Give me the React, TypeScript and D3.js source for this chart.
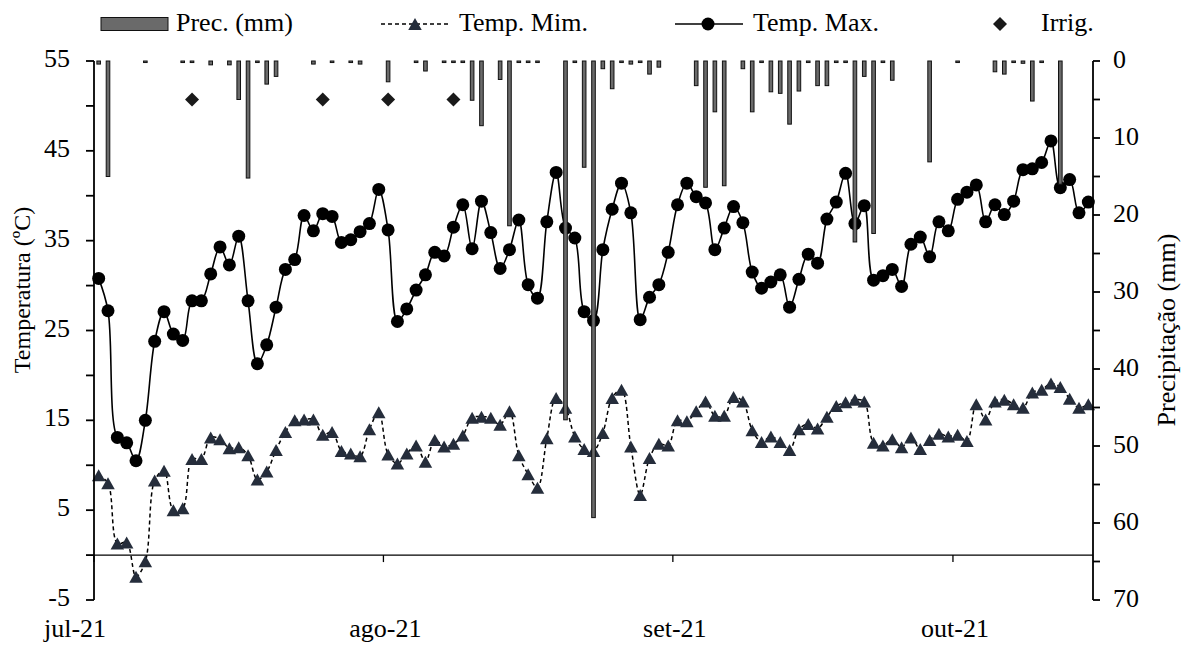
import React from "react";
import * as d3 from "d3";

// ---------- DATA ----------
const startDate = "2021-07-01";
const endDate = "2021-10-16";

const tempMax: number[] = [
  30.8, 27.2, 13.1, 12.5, 10.5, 15.0, 23.8, 27.1, 24.6, 23.9,
  28.3, 28.3, 31.3, 34.3, 32.3, 35.5, 28.3, 21.3, 23.4, 27.6,
  31.8, 32.9, 37.8, 36.1, 38.0, 37.7, 34.8, 35.1, 36.0, 36.9,
  40.7, 36.2, 26.0, 27.4, 29.5, 31.2, 33.7, 33.3, 36.5, 39.0,
  34.1, 39.4, 35.9, 31.9, 34.0, 37.3, 30.1, 28.6, 37.1, 42.6,
  36.4, 35.3, 27.1, 26.1, 34.0, 38.5, 41.4, 38.1, 26.2, 28.7,
  30.1, 33.7, 39.0, 41.4, 39.9, 39.2, 34.0, 36.4, 38.8, 37.0,
  31.5, 29.7, 30.4, 31.2, 27.6, 30.7, 33.5, 32.5, 37.4, 39.3,
  42.5, 36.9, 38.9, 30.6, 31.1, 31.8, 29.9, 34.6, 35.4, 33.2,
  37.1, 36.1, 39.6, 40.4, 41.2, 37.1, 39.0, 37.9, 39.4, 42.9,
  43.0, 43.7, 46.1, 40.9, 41.8, 38.1, 39.3,
];

const tempMin: number[] = [
  8.9, 8.0, 1.3, 1.4, -2.4, -0.7, 8.3, 9.4, 5.0, 5.2,
  10.7, 10.7, 13.1, 12.9, 11.9, 12.0, 11.1, 8.4, 9.3, 11.7,
  13.7, 15.0, 15.1, 15.1, 13.4, 13.7, 11.6, 11.3, 11.0, 14.0,
  15.9, 11.2, 10.2, 11.3, 12.2, 10.4, 12.8, 12.1, 12.4, 13.3,
  15.3, 15.4, 15.3, 14.5, 16.0, 11.1, 9.0, 7.5, 13.0, 17.5,
  16.4, 13.2, 11.8, 11.6, 13.6, 17.5, 18.4, 12.1, 6.7, 10.8,
  12.4, 12.2, 15.0, 14.9, 16.0, 17.1, 15.5, 15.5, 17.6, 17.1,
  13.9, 12.6, 13.2, 12.6, 11.7, 14.0, 14.6, 14.1, 15.4, 16.6,
  17.0, 17.3, 17.1, 12.5, 12.2, 12.9, 12.0, 13.1, 11.8, 12.8,
  13.5, 13.2, 13.4, 12.7, 16.8, 15.1, 17.1, 17.3, 16.8, 16.4,
  18.1, 18.4, 19.1, 18.7, 17.4, 16.4, 16.8,
];

const precipitation: number[] = [
  0.4, 15.0, 0, 0, 0, 0.2, 0, 0, 0, 0.2,
  0.2, 0, 0.5, 0, 0.5, 5.0, 15.2, 0.2, 3.0, 2.0,
  0, 0, 0, 0.4, 0, 0.2, 0, 0.2, 0.4, 0,
  0, 2.7, 0, 0, 0.2, 1.3, 0, 0.2, 0.2, 0.2,
  5.1, 8.4, 0, 2.4, 21.4, 0.2, 0.2, 0.2, 0, 0,
  46.6, 0.2, 13.8, 59.3, 1.0, 3.6, 0.2, 0.4, 0.2, 1.7,
  0.8, 0, 0, 0, 3.2, 16.4, 6.6, 16.2, 0, 1.0,
  6.6, 0.2, 4.0, 4.2, 8.2, 3.9, 0.2, 3.2, 3.2, 0.2,
  0.2, 23.5, 2.0, 22.4, 0.2, 2.5, 0, 0, 0, 13.1,
  0, 0, 0.2, 0, 0, 0, 1.4, 1.7, 0.2, 0.3,
  5.2, 0.2, 0, 16.0, 0, 0, 0,
];

const irrigationDates: string[] = ["2021-07-11", "2021-07-25", "2021-08-01", "2021-08-08"];
const irrigationValue = 5;

const monthTicks: string[] = ["2021-07-01", "2021-08-01", "2021-09-01", "2021-10-01"];
const monthLabels: string[] = ["jul-21", "ago-21", "set-21", "out-21"];

const tempTicks: number[] = [-5, 0, 5, 10, 15, 20, 25, 30, 35, 40, 45, 50, 55];
const tempLabels: number[] = [-5, 5, 15, 25, 35, 45, 55];
const precTicks: number[] = [0, 5, 10, 15, 20, 25, 30, 35, 40, 45, 50, 55, 60, 65, 70];
const precLabels: number[] = [0, 10, 20, 30, 40, 50, 60, 70];

// ---------- LAYOUT ----------
const W = 1189;
const H = 645;
const L = 94;
const R = 1093;
const T = 61;
const B = 600;
const FONT = "'Liberation Serif', 'Times New Roman', serif";
const FS = 26;

const parse = (s: string) => new Date(s + "T00:00:00Z");

export default function App() {
  const x = d3.scaleUtc().domain([parse(startDate), parse(endDate)]).range([L, R]);
  const yT = d3.scaleLinear().domain([-5, 55]).range([B, T]);
  const yP = d3.scaleLinear().domain([0, 70]).range([T, B]);

  const dayX = (i: number) => x(d3.utcHour.offset(d3.utcDay.offset(parse(startDate), i), 12));
  const dateX = (s: string) => x(d3.utcHour.offset(parse(s), 12));

  const curve = d3.curveCatmullRom.alpha(0.5);
  const maxLine = d3.line<number>().x((_, i) => dayX(i)).y((d) => yT(d)).curve(curve);
  const minLine = d3.line<number>().x((_, i) => dayX(i)).y((d) => yT(d)).curve(curve);

  const barW = 3.6;
  const tri = (cx: number, cy: number) => {
    const w = 13.5, h = 12;
    return `M${cx},${cy - h / 2}L${cx + w / 2},${cy + h / 2}L${cx - w / 2},${cy + h / 2}Z`;
  };
  const diamond = (cx: number, cy: number) => {
    const r = 7;
    return `M${cx},${cy - r}L${cx + r},${cy}L${cx},${cy + r}L${cx - r},${cy}Z`;
  };
  const triColor = "#252d3b";
  const barFill = "#6a6a6a";

  const legendY = 24;

  return (
    <svg
      width={W}
      height={H}
      style={{ position: "absolute", left: 0, top: 0, background: "#fff" }}
      fontFamily={FONT}
      fontSize={FS}
    >
      {/* Temperature lines */}
      <path d={minLine(tempMin) || ""} fill="none" stroke="#000" strokeWidth={1.5} strokeDasharray="4 3" />
      <path d={maxLine(tempMax) || ""} fill="none" stroke="#000" strokeWidth={1.6} />
      {tempMin.map((v, i) => (
        <path key={"tn" + i} d={tri(dayX(i), yT(v))} fill={triColor} />
      ))}
      {tempMax.map((v, i) => (
        <circle key={"tx" + i} cx={dayX(i)} cy={yT(v)} r={6.5} fill="#000" />
      ))}

      {/* Precipitation bars (secondary axis, reversed) */}
      {precipitation.map((v, i) =>
        v > 0 ? (
          <rect
            key={"p" + i}
            x={dayX(i) - barW / 2}
            y={yP(0)}
            width={barW}
            height={Math.max(yP(v) - yP(0), 1)}
            fill={barFill}
            stroke="#111"
            strokeWidth={1}
          />
        ) : null
      )}

      {/* Irrigation */}
      {irrigationDates.map((d) => (
        <path key={d} d={diamond(dateX(d), yP(irrigationValue))} fill="#1a1a1a" />
      ))}

      {/* X axis at 0 */}
      <line x1={L} x2={R} y1={yT(0)} y2={yT(0)} stroke="#000" strokeWidth={1.3} />
      {monthTicks.map((m, i) => (
        <g key={m}>
          <line x1={x(parse(m))} x2={x(parse(m))} y1={yT(0)} y2={yT(0) + 7} stroke="#000" strokeWidth={1.3} />
          <text x={x(parse(m)) + (i === 0 ? -19 : 2)} y={637} textAnchor="middle">
            {monthLabels[i]}
          </text>
        </g>
      ))}

      {/* Left axis */}
      <line x1={L} x2={L} y1={T} y2={B} stroke="#000" strokeWidth={1.8} />
      {tempTicks.map((t) => (
        <line key={"lt" + t} x1={L - 8} x2={L} y1={yT(t)} y2={yT(t)} stroke="#000" strokeWidth={1.8} />
      ))}
      {tempLabels.map((t) => (
        <text key={"ll" + t} x={70} y={yT(t) + 6} textAnchor="end">
          {t}
        </text>
      ))}
      <text transform={`translate(30,290) rotate(-90)`} textAnchor="middle" fontSize={24}>
        Temperatura (ºC)
      </text>

      {/* Right axis */}
      <line x1={R} x2={R} y1={T} y2={B} stroke="#000" strokeWidth={1.8} />
      {precTicks.map((t) => (
        <line key={"rt" + t} x1={R} x2={R + 7} y1={yP(t)} y2={yP(t)} stroke="#000" strokeWidth={1.8} />
      ))}
      {precLabels.map((t) => (
        <text key={"rl" + t} x={1113} y={yP(t) + 7} textAnchor="start">
          {t}
        </text>
      ))}
      <text transform={`translate(1175,330) rotate(-90)`} textAnchor="middle">
        Precipitação (mm)
      </text>

      {/* Legend */}
      <rect x={101} y={17.5} width={67} height={13} fill={barFill} stroke="#111" strokeWidth={1} />
      <text x={176} y={31}>Prec. (mm)</text>

      <line x1={381} x2={449} y1={legendY} y2={legendY} stroke="#000" strokeWidth={1.5} strokeDasharray="4 3" />
      <path d={tri(415, legendY)} fill={triColor} />
      <text x={459} y={31}>Temp. Mim.</text>

      <line x1={675} x2={743} y1={legendY} y2={legendY} stroke="#000" strokeWidth={1.6} />
      <circle cx={708} cy={legendY} r={6.5} fill="#000" />
      <text x={753} y={31}>Temp. Max.</text>

      <path d={diamond(1000, legendY)} fill="#1a1a1a" />
      <text x={1041} y={31}>Irrig.</text>
    </svg>
  );
}
